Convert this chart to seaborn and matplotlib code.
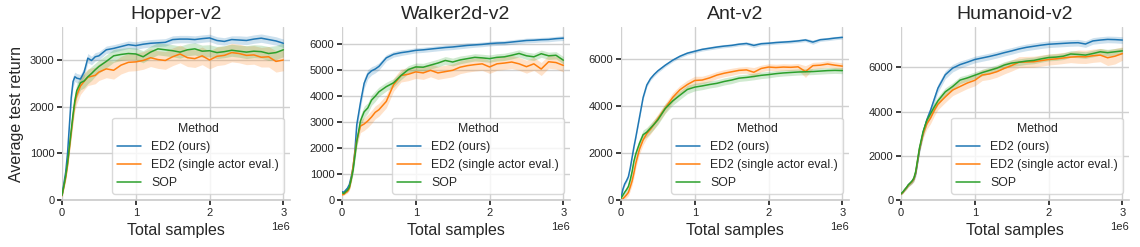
import numpy as np
import pandas as pd
import matplotlib
matplotlib.use("Agg")
import matplotlib.pyplot as plt
from matplotlib.ticker import MultipleLocator
import seaborn as sns

# ---------------- data ----------------
samples = [0, 0.025e6, 0.05e6, 0.075e6, 0.1e6, 0.125e6, 0.15e6, 0.175e6, 0.2e6, 0.25e6,
           0.3e6, 0.35e6, 0.4e6, 0.45e6, 0.5e6, 0.6e6, 0.7e6, 0.8e6, 0.9e6, 1.0e6,
           1.1e6, 1.2e6, 1.3e6, 1.4e6, 1.5e6, 1.6e6, 1.7e6, 1.8e6, 1.9e6, 2.0e6,
           2.1e6, 2.2e6, 2.3e6, 2.4e6, 2.5e6, 2.6e6, 2.7e6, 2.8e6, 2.9e6, 3.0e6]

methods = ["ED2 (ours)", "ED2 (single actor eval.)", "SOP"]
envs = ["Hopper-v2", "Walker2d-v2", "Ant-v2", "Humanoid-v2"]

# Hopper-v2
hopper_ed2 = [110, 350, 600, 1000, 1600, 2200, 2550, 2650, 2620, 2600, 2750, 3050, 3000, 3080, 3100, 3230, 3260, 3300, 3340, 3320,
              3350, 3370, 3380, 3390, 3450, 3460, 3460, 3450, 3470, 3485, 3430, 3410, 3450, 3440, 3430, 3460, 3480, 3450, 3420, 3370]
hopper_single = [90, 280, 480, 750, 1100, 1450, 1800, 2100, 2250, 2450, 2550, 2640, 2660, 2680, 2750, 2820, 2790, 2900, 2960, 2970,
                 3000, 3060, 3020, 3000, 3080, 3140, 3060, 3040, 3100, 3010, 3090, 3110, 3170, 3150, 3110, 3120, 3070, 3080, 2980, 3010]
hopper_sop = [100, 300, 520, 800, 1150, 1500, 1850, 2150, 2350, 2520, 2560, 2650, 2720, 2800, 2870, 2980, 3100, 3130, 3150, 3140,
              3080, 3180, 3250, 3230, 3210, 3180, 3230, 3250, 3200, 3210, 3170, 3190, 3220, 3200, 3180, 3200, 3190, 3150, 3170, 3230]
hopper_ed2_ci = [30, 60, 80, 100, 120, 120, 120, 100, 100, 100, 100, 100, 90, 90, 90, 80, 80, 80, 80, 80,
                 80, 80, 80, 80, 80, 80, 80, 80, 80, 80, 80, 80, 80, 90, 90, 90, 90, 90, 90, 90]
hopper_single_ci = [30, 50, 70, 90, 110, 140, 160, 170, 180, 180, 180, 180, 180, 180, 180, 190, 190, 190, 190, 190,
                    190, 190, 190, 190, 190, 190, 190, 190, 190, 190, 200, 200, 200, 200, 200, 200, 210, 220, 230, 230]
hopper_sop_ci = [30, 50, 70, 90, 110, 130, 150, 150, 150, 150, 150, 150, 150, 140, 140, 140, 140, 130, 130, 130,
                 130, 130, 130, 130, 130, 130, 130, 130, 130, 130, 130, 130, 130, 130, 140, 140, 140, 150, 150, 150]

# Walker2d-v2
walker_ed2 = [320, 300, 380, 460, 600, 900, 1250, 1900, 2900, 3750, 4500, 4850, 4980, 5050, 5150, 5480, 5620, 5680, 5720, 5770,
              5790, 5820, 5850, 5880, 5900, 5930, 5960, 5980, 6000, 6030, 6050, 6060, 6090, 6120, 6150, 6160, 6180, 6190, 6220, 6240]
walker_single = [200, 220, 280, 330, 450, 800, 1300, 1830, 2300, 2850, 2930, 3050, 3200, 3380, 3480, 3800, 4450, 4800, 4850, 4940,
                 4900, 5000, 4900, 4950, 5000, 5120, 5180, 5220, 5250, 5130, 5250, 5280, 5320, 5250, 5140, 5250, 5050, 5330, 5300, 5190]
walker_sop = [280, 250, 320, 380, 500, 800, 1150, 1700, 2250, 3050, 3400, 3550, 3850, 4000, 4170, 4370, 4520, 4800, 5030, 5130,
              5120, 5200, 5280, 5380, 5320, 5400, 5450, 5500, 5480, 5450, 5500, 5520, 5580, 5650, 5560, 5520, 5640, 5560, 5580, 5390]
walker_ed2_ci = [40, 40, 50, 60, 80, 120, 160, 200, 220, 220, 200, 180, 160, 150, 140, 120, 110, 110, 100, 100,
                 100, 100, 100, 100, 100, 100, 100, 90, 90, 90, 90, 90, 90, 90, 90, 90, 90, 90, 90, 90]
walker_single_ci = [40, 40, 50, 60, 80, 120, 160, 200, 220, 250, 250, 250, 250, 250, 250, 250, 250, 250, 250, 250,
                    250, 250, 250, 250, 250, 250, 250, 250, 250, 250, 250, 250, 250, 250, 250, 250, 250, 250, 250, 250]
walker_sop_ci = [40, 40, 50, 60, 80, 120, 160, 200, 220, 220, 220, 200, 200, 200, 180, 170, 160, 160, 150, 150,
                 150, 150, 150, 150, 150, 150, 140, 140, 140, 140, 140, 140, 140, 140, 140, 140, 140, 140, 140, 140]

# Ant-v2
ant_ed2 = [80, 450, 680, 820, 990, 1350, 1800, 2250, 2650, 3500, 4350, 4880, 5150, 5330, 5480, 5720, 5930, 6100, 6230, 6310,
           6390, 6440, 6490, 6530, 6560, 6610, 6640, 6560, 6630, 6650, 6680, 6700, 6720, 6750, 6790, 6700, 6800, 6830, 6870, 6900]
ant_single = [0, 50, 130, 220, 320, 550, 800, 1150, 1550, 2150, 2550, 2820, 3000, 3220, 3450, 3900, 4350, 4680, 4900, 5070,
              5090, 5180, 5300, 5380, 5440, 5500, 5520, 5420, 5580, 5640, 5620, 5640, 5630, 5650, 5450, 5700, 5720, 5770, 5720, 5680]
ant_sop = [80, 200, 330, 440, 570, 850, 1200, 1650, 1950, 2400, 2770, 2880, 3050, 3220, 3400, 3880, 4200, 4450, 4690, 4790,
           4840, 4900, 4950, 5030, 5090, 5170, 5200, 5240, 5290, 5320, 5360, 5390, 5410, 5430, 5440, 5450, 5470, 5490, 5500, 5490]
ant_ed2_ci = [50, 80, 80, 80, 80, 80, 80, 80, 80, 80, 80, 80, 80, 80, 80, 70, 70, 70, 70, 70,
              70, 70, 70, 70, 70, 70, 70, 90, 70, 70, 70, 70, 70, 70, 70, 90, 70, 70, 70, 70]
ant_single_ci = [50, 80, 100, 120, 140, 160, 180, 200, 200, 200, 200, 200, 200, 200, 200, 200, 200, 180, 180, 180,
                 160, 160, 150, 150, 150, 140, 140, 200, 140, 140, 140, 140, 140, 140, 250, 140, 140, 140, 140, 140]
ant_sop_ci = [50, 80, 100, 120, 140, 160, 180, 200, 200, 200, 200, 200, 200, 200, 200, 200, 180, 180, 180, 160,
              160, 150, 150, 150, 150, 140, 140, 140, 140, 140, 130, 130, 130, 130, 130, 130, 130, 130, 130, 130]

# Humanoid-v2
humanoid_ed2 = [280, 350, 460, 560, 680, 760, 840, 950, 1200, 2250, 3050, 3620, 4050, 4550, 5050, 5660, 5960, 6120, 6230, 6350,
                6420, 6490, 6570, 6660, 6740, 6830, 6900, 6950, 7000, 7040, 7060, 7080, 7100, 7110, 7050, 7190, 7230, 7260, 7250, 7230]
humanoid_single = [270, 340, 450, 550, 670, 750, 830, 960, 1250, 2300, 3000, 3450, 3700, 4050, 4330, 4660, 4970, 5130, 5290, 5410,
                   5650, 5700, 5800, 5950, 6080, 6230, 6240, 6250, 6300, 6350, 6380, 6420, 6460, 6480, 6470, 6520, 6550, 6430, 6500, 6620]
humanoid_sop = [280, 360, 470, 570, 690, 770, 860, 1000, 1300, 2350, 3100, 3600, 3900, 4200, 4480, 4890, 5130, 5420, 5520, 5640,
                5760, 5860, 5960, 6100, 6190, 6230, 6280, 6310, 6380, 6440, 6460, 6500, 6600, 6580, 6550, 6620, 6700, 6660, 6700, 6740]
humanoid_ed2_ci = [50, 50, 60, 70, 80, 90, 100, 120, 140, 160, 180, 200, 200, 200, 190, 180, 170, 160, 150, 150,
                   150, 150, 150, 150, 150, 150, 150, 150, 150, 150, 150, 150, 150, 150, 150, 150, 150, 150, 150, 150]
humanoid_single_ci = [50, 50, 60, 70, 80, 90, 100, 120, 140, 160, 200, 250, 250, 250, 250, 250, 250, 250, 250, 250,
                      250, 250, 250, 250, 250, 250, 250, 250, 250, 250, 250, 250, 250, 300, 300, 300, 300, 350, 350, 300]
humanoid_sop_ci = [50, 50, 60, 70, 80, 90, 100, 120, 140, 160, 180, 200, 200, 200, 190, 180, 170, 160, 150, 150,
                   150, 150, 150, 150, 150, 150, 150, 150, 150, 150, 150, 150, 150, 150, 150, 150, 150, 150, 150, 150]

panels = {
    "Hopper-v2": ([hopper_ed2, hopper_single, hopper_sop], [hopper_ed2_ci, hopper_single_ci, hopper_sop_ci]),
    "Walker2d-v2": ([walker_ed2, walker_single, walker_sop], [walker_ed2_ci, walker_single_ci, walker_sop_ci]),
    "Ant-v2": ([ant_ed2, ant_single, ant_sop], [ant_ed2_ci, ant_single_ci, ant_sop_ci]),
    "Humanoid-v2": ([humanoid_ed2, humanoid_single, humanoid_sop], [humanoid_ed2_ci, humanoid_single_ci, humanoid_sop_ci]),
}

# ---------------- style ----------------
sns.set_theme(style="whitegrid", rc={
    "xtick.bottom": True, "ytick.left": True,
    "xtick.major.size": 3.5, "ytick.major.size": 3.5,
    "grid.color": "#d0d0d0",
})
plt.rcParams["font.family"] = ["Liberation Sans", "DejaVu Sans"]

palette = sns.color_palette("tab10", 3)

fig = plt.figure(figsize=(11.4, 2.47), dpi=100)
lefts = [62, 342, 621, 901]
ylims = [3720, 6670, 7340, 7820]
ysteps = [1000, 1000, 2000, 2000]

for i, env in enumerate(envs):
    ax = fig.add_axes([lefts[i] / 1140, 47 / 247, 228 / 1140, 173 / 247])
    means, cis = panels[env]
    rows = []
    for m, vals in zip(methods, means):
        for xv, yv in zip(samples, vals):
            rows.append({"Total samples": xv, "Average test return": yv, "Method": m})
    df = pd.DataFrame(rows)
    x = np.array(samples)
    for j, (vals, ci) in enumerate(zip(means, cis)):
        v = np.array(vals, dtype=float)
        c = np.array(ci, dtype=float)
        ax.fill_between(x, v - c, v + c, color=palette[j], alpha=0.22, linewidth=0)
    sns.lineplot(data=df, x="Total samples", y="Average test return", hue="Method",
                 hue_order=methods, palette=palette, ax=ax, linewidth=1.1, errorbar=None)
    ax.set_xlim(0, 3.09e6)
    ax.set_ylim(0, ylims[i])
    ax.yaxis.set_major_locator(MultipleLocator(ysteps[i]))
    ax.xaxis.set_major_locator(MultipleLocator(1e6))
    ax.set_title(env, fontsize=14, color="#262626")
    ax.set_xlabel("Total samples", fontsize=11.5, color="#262626")
    if i == 0:
        ax.set_ylabel("Average test return", fontsize=11.5, color="#262626")
    else:
        ax.set_ylabel("")
    ax.tick_params(labelsize=8, pad=2)
    ax.xaxis.get_offset_text().set_fontsize(8)
    sns.despine(ax=ax, left=True)
    leg = ax.legend(title="Method", loc="lower right", fontsize=8.8, title_fontsize=8.8,
                    frameon=True)
    leg.get_frame().set_edgecolor("#d0d0d0")

fig.savefig("out.png", dpi=100)
